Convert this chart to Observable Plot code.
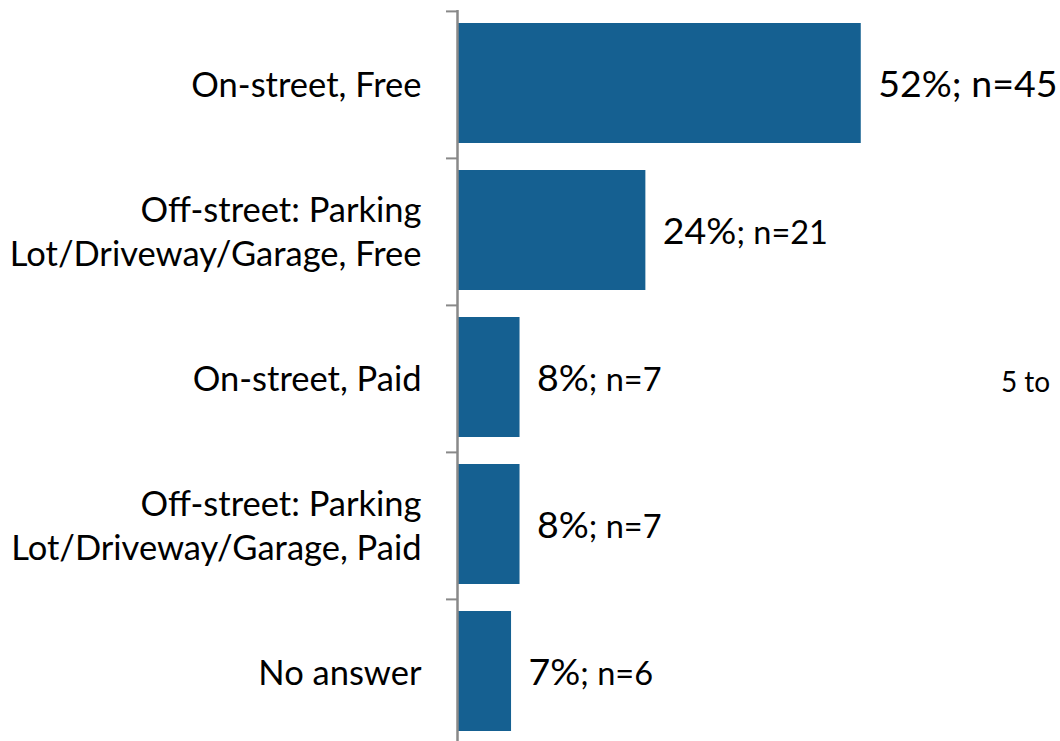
<!DOCTYPE html>
<html>
<head>
<meta charset="utf-8">
<script src="https://cdn.jsdelivr.net/npm/d3@7"></script>
<script src="https://cdn.jsdelivr.net/npm/@observablehq/plot@0.6"></script>
<style>
  html, body { margin: 0; padding: 0; background: #fff; }
  #chart { width: 1060px; height: 741px; overflow: hidden; }
</style>
</head>
<body>
<div id="chart"></div>
<script>
const categories = [
  "On-street, Free",
  "Off-street: Parking\nLot/Driveway/Garage, Free",
  "On-street, Paid",
  "Off-street: Parking\nLot/Driveway/Garage, Paid",
  "No answer"
];
const percents = [52.3, 24.4, 8.1, 8.1, 7.0];
const percentLabels = ["52%", "24%", "8%", "8%", "7%"];
const counts = [45, 21, 7, 7, 6];
const sideNote = ["5 to"];

const data = categories.map((c, i) => ({
  category: c,
  value: percents[i],
  label: percentLabels[i] + "; n=" + counts[i]
}));

const font = "Lato, 'Open Sans', sans-serif";

const chart = Plot.plot({
  width: 1060,
  height: 741,
  marginLeft: 457,
  marginRight: 62.6,
  marginTop: 10,
  marginBottom: 0,
  style: { fontFamily: font, background: "white", color: "black", overflow: "hidden" },
  x: { domain: [0, 70], axis: null },
  y: { domain: categories, padding: 0, range: [10, 746], axis: null },
  marks: [
    Plot.barX(data, { x: "value", y: "category", fill: "#156091", insetTop: 12, insetBottom: 15 }),
    Plot.axisY({ label: null, tickSize: 0, tickPadding: 36, fontSize: 34.5, lineHeight: 1.28, textAnchor: "end", fill: "black", dy: -2 }),
    Plot.axisY({ label: null, tickSize: 11, tickFormat: () => "", dy: -73.6, stroke: "#898989", strokeWidth: 2 }),
    Plot.ruleX([0], { stroke: "#898989", strokeWidth: 2.5 }),
    Plot.text(data, { x: "value", y: "category", text: "label", textAnchor: "start", dx: 17, dy: 0, fontSize: 37.5, fill: "black" }),
    Plot.text(sideNote, { frameAnchor: "right", textAnchor: "start", dx: 3, dy: 7.5, fontSize: 28, fill: "black" })
  ]
});

// Smaller "; n=…" part, as in the reference (first label is uniformly large)
const labelTexts = Array.from(chart.querySelectorAll("text")).filter(t => /%; n=/.test(t.textContent));
labelTexts.forEach((t, i) => {
  if (i === 0) return;
  const s = t.textContent;
  const k = s.indexOf(";");
  t.textContent = "";
  const a = document.createElementNS("http://www.w3.org/2000/svg", "tspan");
  a.textContent = s.slice(0, k);
  const b = document.createElementNS("http://www.w3.org/2000/svg", "tspan");
  b.textContent = s.slice(k);
  b.setAttribute("font-size", 32.5);
  t.appendChild(a);
  t.appendChild(b);
});

document.getElementById("chart").appendChild(chart);
</script>
</body>
</html>
